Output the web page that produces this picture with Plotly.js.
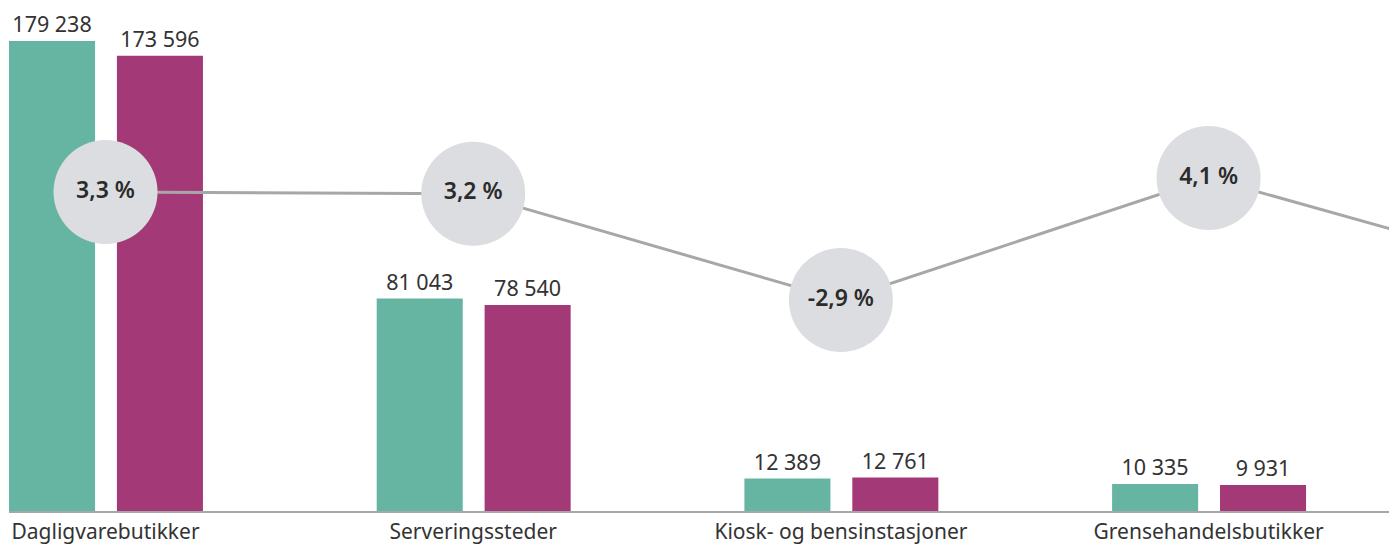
<!DOCTYPE html>
<html>
<head>
<meta charset="utf-8">
<script src="https://cdn.plot.ly/plotly-3.0.1.min.js"></script>
<style>html,body{margin:0;padding:0;background:#fff;}#chart{width:1389px;height:546px;}</style>
</head>
<body>
<div id="chart"></div>
<script>
const categories = ["Dagligvarebutikker", "Serveringssteder", "Kiosk- og bensinstasjoner", "Grensehandelsbutikker"];
const series2023 = [179238, 81043, 12389, 10335];
const series2024 = [173596, 78540, 12761, 9931];
// growth in %, last value belongs to a category cut off at the right edge
const growth = [3.3, 3.2, -2.9, 4.1, -1.8];

const idx = categories.map((c, i) => i);
const growthX = growth.map((g, i) => i);
const growthText = growth.map((g, i) => i < categories.length ? g.toFixed(1).replace(".", ",") + " %" : "");

const fam = "Noto Sans, Open Sans, sans-serif";
const valueFont = {family: fam, size: 21.5, color: "#333333"};
const tickFont = {family: fam, size: 21, color: "#333333"};

const traces = [
  {
    type: "bar", x: idx, y: series2023, yaxis: "y",
    marker: {color: "#66b5a3"}, width: 0.234, offset: -0.2625,
    texttemplate: "%{y:,}", textposition: "outside", cliponaxis: false,
    textfont: valueFont, hoverinfo: "skip", showlegend: false
  },
  {
    type: "bar", x: idx, y: series2024, yaxis: "y",
    marker: {color: "#a33a77"}, width: 0.234, offset: 0.031,
    texttemplate: "%{y:,}", textposition: "outside", cliponaxis: false,
    textfont: valueFont, hoverinfo: "skip", showlegend: false
  },
  {
    type: "scatter", x: growthX, y: growth, yaxis: "y2",
    mode: "lines+markers+text",
    line: {color: "#a7a7ab", width: 3},
    marker: {size: 104, color: "#dcdde0", line: {width: 0}},
    text: growthText, textposition: "middle center",
    textfont: {family: fam, size: 23, color: "#2b2b2b", weight: 600},
    hoverinfo: "skip", showlegend: false
  }
];

const layout = {
  width: 1389, height: 546,
  margin: {l: 9, r: 0, t: 0, b: 35},
  paper_bgcolor: "#ffffff", plot_bgcolor: "#ffffff",
  separators: ", ",
  barmode: "overlay",
  xaxis: {
    range: [-0.2625, 3.4906], tickvals: idx, ticktext: categories,
    showgrid: false, zeroline: false, showline: true, linecolor: "#a7a7ab", linewidth: 2,
    ticks: "", tickfont: tickFont, ticklabelstandoff: 1, fixedrange: true
  },
  yaxis: {
    range: [0, 194880], visible: false, showgrid: false, zeroline: false, fixedrange: true
  },
  yaxis2: {
    range: [-15.0, 14.31], overlaying: "y", side: "right", visible: false,
    showgrid: false, zeroline: false, fixedrange: true
  }
};

Plotly.newPlot("chart", traces, layout, {displayModeBar: false, staticPlot: true});
</script>
</body>
</html>
